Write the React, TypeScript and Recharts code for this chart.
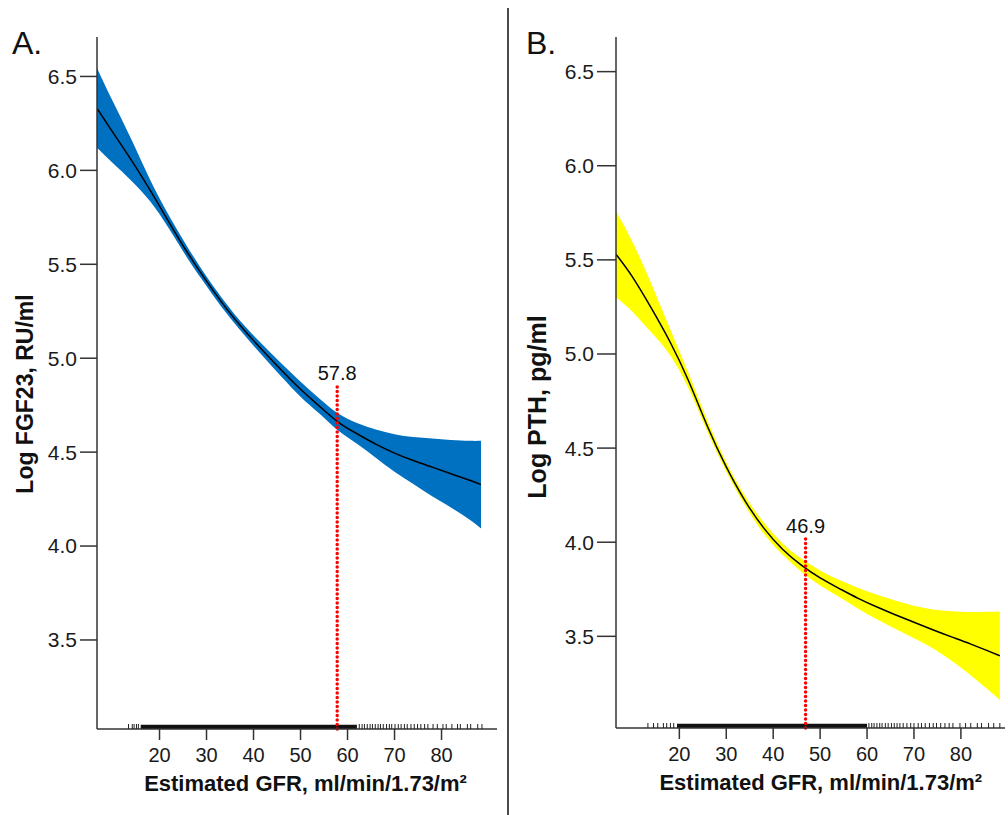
import {
  ComposedChart,
  Area,
  Line,
  Scatter,
  XAxis,
  YAxis,
  ReferenceLine,
  ReferenceArea,
} from "recharts";

const FONT = '"Liberation Sans", Arial, Helvetica, sans-serif';

// Panel A: log FGF23 vs eGFR
const gfrA = [6.7, 10, 14, 18, 22, 26, 30, 34, 38, 42, 46, 50, 54, 58, 62, 66, 70, 74, 78, 82, 86, 88.4];
const fitA = [6.33, 6.205, 6.055, 5.895, 5.725, 5.56, 5.41, 5.272, 5.15, 5.04, 4.935, 4.835, 4.745, 4.66, 4.598, 4.543, 4.495, 4.455, 4.42, 4.385, 4.35, 4.327];
const lowA = [6.12, 6.04, 5.945, 5.835, 5.69, 5.53, 5.385, 5.247, 5.125, 5.01, 4.9, 4.795, 4.705, 4.615, 4.545, 4.47, 4.395, 4.33, 4.265, 4.205, 4.14, 4.094];
const highA = [6.545, 6.37, 6.165, 5.95, 5.76, 5.59, 5.435, 5.297, 5.175, 5.07, 4.97, 4.875, 4.785, 4.705, 4.655, 4.62, 4.595, 4.58, 4.572, 4.565, 4.56, 4.56];
const rugA = [13.4, 14.2, 14.6, 15.1, 15.5, 62.5, 63.1, 63.6, 64.2, 64.8, 65.3, 65.9, 66.5, 67.0, 67.6, 68.3, 68.9, 69.4, 70.1, 70.8, 71.4, 72.1, 72.7, 73.5, 74.2, 74.9, 75.6, 76.4, 77.1, 78.2, 79.1, 80.3, 81.0, 82.2, 83.4, 84.0, 85.5, 86.2, 87.7, 88.6];
const rugSolidA = [16, 62];

// Panel B: log PTH vs eGFR
const gfrB = [6.5, 10, 14, 18, 22, 26, 30, 34, 38, 42, 46, 50, 54, 58, 62, 66, 70, 74, 78, 82, 86, 88.3];
const fitB = [5.53, 5.41, 5.245, 5.065, 4.855, 4.615, 4.4, 4.22, 4.075, 3.963, 3.878, 3.81, 3.755, 3.703, 3.657, 3.615, 3.575, 3.535, 3.497, 3.46, 3.42, 3.397];
const lowB = [5.3, 5.225, 5.115, 4.995, 4.815, 4.585, 4.375, 4.195, 4.045, 3.933, 3.843, 3.77, 3.71, 3.648, 3.592, 3.54, 3.49, 3.437, 3.37, 3.295, 3.212, 3.162];
const highB = [5.76, 5.595, 5.375, 5.135, 4.895, 4.645, 4.425, 4.245, 4.105, 3.993, 3.913, 3.85, 3.8, 3.758, 3.722, 3.69, 3.662, 3.643, 3.633, 3.629, 3.63, 3.632];
const rugB = [13.3, 14.5, 15.4, 16.6, 17.3, 18.1, 18.8, 60.4, 61.0, 61.5, 62.1, 62.7, 63.2, 63.9, 64.5, 65.2, 65.8, 66.4, 67.0, 67.7, 68.5, 69.3, 70.0, 70.9, 71.6, 72.4, 73.3, 74.1, 74.8, 75.7, 76.6, 77.5, 78.3, 79.8, 81.0, 82.1, 83.5, 84.4, 85.9, 87.0, 88.3];
const rugSolidB = [19.5, 60];

const xTicks = [20, 30, 40, 50, 60, 70, 80];
const yTicks = [3.5, 4.0, 4.5, 5.0, 5.5, 6.0, 6.5];

const cutA = { x: 57.8, top: 4.868, label: "57.8" };
const cutB = { x: 46.9, top: 4.034, label: "46.9" };

const buildRows = (g: number[], fit: number[], lo: number[], hi: number[]) =>
  g.map((v, i) => ({ g: v, fit: fit[i], band: [lo[i], hi[i]] }));

const RugTick = (props: any) => {
  const { cx, cy } = props;
  return <line x1={cx} x2={cx} y1={cy - 5} y2={cy} stroke="#222" strokeWidth={1} />;
};

interface PanelProps {
  rows: { g: number; fit: number; band: number[] }[];
  rug: number[];
  solid: number[];
  xDomain: number[];
  yDomain: number[];
  fill: string;
  cut: { x: number; top: number; label: string };
  width: number;
  margin: { top: number; right: number; bottom: number; left: number };
  yTickSize: number;
}

function Panel({ rows, rug, solid, xDomain, yDomain, fill, cut, width, margin, yTickSize }: PanelProps) {
  const rugRows = rug.map((g) => ({ g, r: yDomain[0] }));
  const axisColor = "#333";
  return (
    <ComposedChart width={width} height={815} data={rows} margin={margin}>
      <XAxis
        dataKey="g"
        type="number"
        domain={xDomain}
        allowDataOverflow
        ticks={xTicks}
        tickSize={11}
        tickMargin={8}
        height={40}
        stroke={axisColor}
        strokeWidth={1.5}
        tick={{ fill: "#1a1a1a", fontSize: 20, fontFamily: FONT }}
      />
      <YAxis
        type="number"
        domain={yDomain}
        allowDataOverflow
        ticks={yTicks}
        tickFormatter={(v: number) => v.toFixed(1)}
        tickSize={yTickSize}
        tickMargin={3}
        width={80}
        stroke={axisColor}
        strokeWidth={1.5}
        tick={{ fill: "#1a1a1a", fontSize: 21, fontFamily: FONT }}
      />
      <Area
        dataKey="band"
        type="natural"
        stroke="none"
        fill={fill}
        fillOpacity={1}
        isAnimationActive={false}
      />
      <Line
        dataKey="fit"
        type="natural"
        stroke="#000"
        strokeWidth={1.5}
        dot={false}
        isAnimationActive={false}
      />
      <ReferenceArea
        x1={solid[0]}
        x2={solid[1]}
        y1={yDomain[0]}
        y2={yDomain[0] + 0.022}
        fill="#111"
        fillOpacity={1}
        stroke="none"
        ifOverflow="visible"
      />
      <Scatter data={rugRows} dataKey="r" shape={RugTick} isAnimationActive={false} />
      <ReferenceLine
        segment={[
          { x: cut.x, y: yDomain[0] },
          { x: cut.x, y: cut.top },
        ]}
        stroke="#ff0000"
        strokeWidth={3.5}
        strokeDasharray="0.1 4.4"
        strokeLinecap="round"
        ifOverflow="visible"
        label={{ value: cut.label, position: "top", offset: 3, fill: "#111", fontSize: 20, fontFamily: FONT }}
      />
    </ComposedChart>
  );
}

export default function App() {
  const rowsA = buildRows(gfrA, fitA, lowA, highA);
  const rowsB = buildRows(gfrB, fitB, lowB, highB);
  return (
    <div style={{ position: "absolute", left: 0, top: 0, width: 1008, height: 815, background: "#fff" }}>
      <div style={{ position: "absolute", left: 0, top: 0 }}>
        <Panel
          rows={rowsA}
          rug={rugA}
          solid={rugSolidA}
          xDomain={[6.7, 91.8]}
          yDomain={[3.026, 6.71]}
          fill="#0070c0"
          cut={cutA}
          width={508}
          margin={{ top: 37, right: 11, bottom: 46, left: 17 }}
          yTickSize={17}
        />
      </div>
      <div style={{ position: "absolute", left: 508, top: 0 }}>
        <Panel
          rows={rowsB}
          rug={rugB}
          solid={rugSolidB}
          xDomain={[6.5, 89.4]}
          yDomain={[3.013, 6.684]}
          fill="#ffff00"
          cut={cutB}
          width={500}
          margin={{ top: 37, right: 3, bottom: 47, left: 28 }}
          yTickSize={19}
        />
      </div>
      <svg
        width={1008}
        height={815}
        style={{ position: "absolute", left: 0, top: 0, pointerEvents: "none" }}
        fontFamily={FONT}
      >
        <line x1={508} x2={508} y1={8} y2={815} stroke="#111" strokeWidth={1.5} />
        <text x={12} y={54} fontSize={32} fill="#111">A.</text>
        <text x={526} y={54} fontSize={32} fill="#111">B.</text>
        <text x={305.5} y={791} fontSize={22} fontWeight="bold" textAnchor="middle" fill="#111">
          Estimated GFR, ml/min/1.73/m²
        </text>
        <text x={820.8} y={790} fontSize={22} fontWeight="bold" textAnchor="middle" fill="#111">
          Estimated GFR, ml/min/1.73/m²
        </text>
        <text
          x={0}
          y={0}
          fontSize={23}
          fontWeight="bold"
          textAnchor="middle"
          fill="#111"
          transform="translate(32.5 394) rotate(-90)"
        >
          Log FGF23, RU/ml
        </text>
        <text
          x={0}
          y={0}
          fontSize={25}
          fontWeight="bold"
          textAnchor="middle"
          fill="#111"
          transform="translate(546 407) rotate(-90)"
        >
          Log PTH, pg/ml
        </text>
      </svg>
    </div>
  );
}
